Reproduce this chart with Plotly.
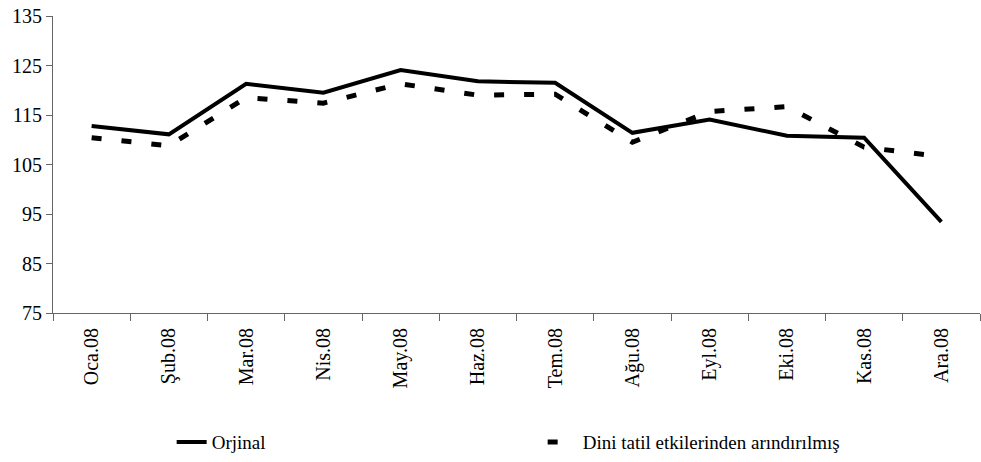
import plotly.graph_objects as go

months = ["Oca.08", "Şub.08", "Mar.08", "Nis.08", "May.08", "Haz.08",
          "Tem.08", "Ağu.08", "Eyl.08", "Eki.08", "Kas.08", "Ara.08"]
orjinal = [112.8, 111.1, 121.3, 119.5, 124.1, 121.8, 121.5, 111.4, 114.1, 110.8, 110.4, 93.4]
arindirilmis = [110.4, 108.8, 118.5, 117.4, 121.3, 119.0, 119.2, 109.5, 115.7, 116.7, 108.5, 106.6]
yticks = [75, 85, 95, 105, 115, 125, 135]

FONT = "Times New Roman, Liberation Serif, DejaVu Serif, serif"

fig = go.Figure()
fig.add_trace(go.Scatter(x=months, y=orjinal, mode="lines", name="Orjinal",
                         line=dict(color="black", width=4)))
fig.add_trace(go.Scatter(x=months, y=arindirilmis, mode="lines",
                         name="Dini tatil etkilerinden arındırılmış",
                         line=dict(color="black", width=5, dash="10px,20px")))

fig.update_layout(
    width=981, height=462,
    margin=dict(l=53, r=1, t=16, b=143),
    paper_bgcolor="white", plot_bgcolor="white",
    font=dict(family=FONT, color="black", size=18),
    showlegend=True,
    legend=dict(orientation="h", x=0.128, xanchor="left", y=-0.435, yanchor="middle",
                font=dict(family=FONT, size=19), entrywidth=326, entrywidthmode="pixels",
                bgcolor="rgba(0,0,0,0)"),
    xaxis=dict(type="category", range=[-0.5, 11.5], showgrid=False, showline=True,
               linecolor="#666", linewidth=1, ticks="outside", ticklen=7, tickcolor="#666",
               tickson="boundaries", tickangle=-90, ticklabelstandoff=6,
               tickfont=dict(family=FONT, size=20), zeroline=False),
    yaxis=dict(range=[75, 135], tickvals=yticks, showgrid=False, showline=True,
               linecolor="#666", linewidth=1, ticks="outside", ticklen=6,
               tickcolor="#666", tickfont=dict(family=FONT, size=20), zeroline=False),
)

fig.write_html("out.html")
